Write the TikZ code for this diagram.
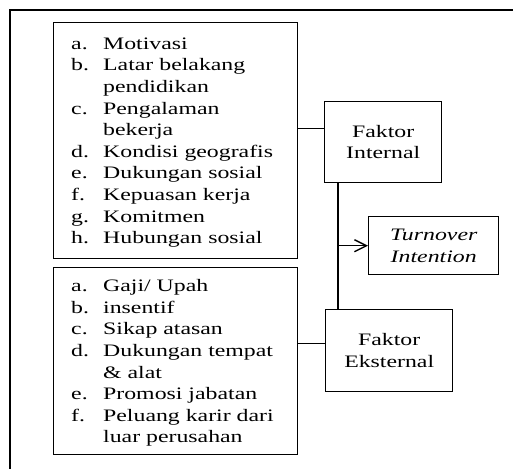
\documentclass[tikz,border=0pt]{standalone}
\usepackage{fontspec}
\setmainfont{Liberation Serif}[FakeStretch=1.36]
\usetikzlibrary{arrows.meta,calc}
\newcommand{\itm}[2]{\makebox[32pt][l]{#1}#2}
\newcommand{\cnt}[1]{\hspace*{32pt}#1}
\begin{document}
\begin{tikzpicture}[x=1pt,y=-1pt,
  box/.style={draw, line width=1.4pt, inner sep=0pt},
  lst/.style={anchor=base west, align=left, inner sep=0pt, font=\fontsize{17.5}{21.6}\selectfont},
  lbl/.style={align=center, font=\fontsize{17.5}{21.6}\selectfont},
  conn/.style={line width=1.4pt}]
\useasboundingbox (0,0) rectangle (513,468);
% outer frame (only top and left visible)
\draw[line width=2.6pt] (10,470) -- (10,10) -- (515,10);
% list boxes
\node[box, minimum width=244, minimum height=236, anchor=north west] (il) at (53,22) {};
\node[lst] (iltext) at (71,243.6) {%
\itm{a.}{Motivasi}\\
\itm{b.}{Latar belakang}\\
\cnt{pendidikan}\\
\itm{c.}{Pengalaman}\\
\cnt{bekerja}\\
\itm{d.}{Kondisi geografis}\\
\itm{e.}{Dukungan sosial}\\
\itm{f.}{Kepuasan kerja}\\
\itm{g.}{Komitmen}\\
\itm{h.}{Hubungan sosial}};
\node[box, minimum width=244, minimum height=187, anchor=north west] (el) at (53,267) {};
\node[lst] (eltext) at (71,442.8) {%
\itm{a.}{Gaji/ Upah}\\
\itm{b.}{insentif}\\
\itm{c.}{Sikap atasan}\\
\itm{d.}{Dukungan tempat}\\
\cnt{\& alat}\\
\itm{e.}{Promosi jabatan}\\
\itm{f.}{Peluang karir dari}\\
\cnt{luar perusahan}};
% factor boxes
\node[box, lbl, minimum width=117, minimum height=81, anchor=north west] (fi) at (324,101) {Faktor\\Internal};
\node[box, lbl, minimum width=127, minimum height=82, anchor=north west] (fe) at (325,309) {Faktor\\Eksternal};
\node[box, lbl, minimum width=130, minimum height=58, anchor=north west, font=\fontsize{17.5}{21.6}\selectfont\itshape] (ti) at (368,216) {Turnover\\Intention};
% connectors
\draw[conn] (fi.west) ++(0,-14) coordinate (ci) -- (ci -| il.east);
\draw[conn] (fe.west) ++(0,-7) coordinate (ce) -- (ce -| el.east);
\draw[conn] (fi.south west) ++(14,0) coordinate (v1) -- (v1 |- fe.north);
\draw[conn, -{Straight Barb[length=12pt,width=12pt,line width=1.4pt]}] (v1 |- ti.west) -- (ti.west);
\end{tikzpicture}
\end{document}
